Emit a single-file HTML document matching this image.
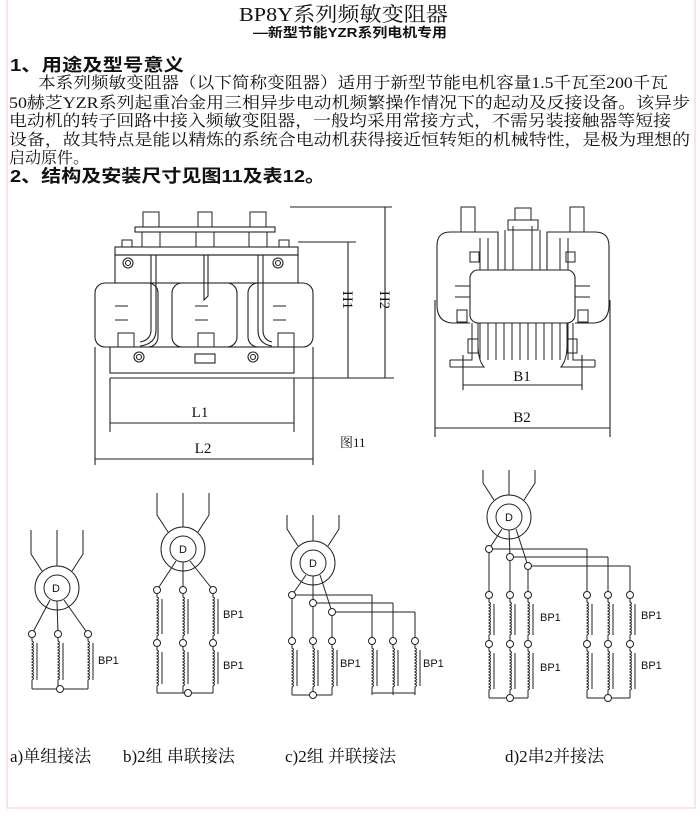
<!DOCTYPE html>
<html><head><meta charset="utf-8"><style>
html,body{margin:0;padding:0;background:#fff;width:700px;height:822px;overflow:hidden}
svg{display:block}
.s{font-family:"Liberation Serif","Noto Serif CJK SC","Noto Sans CJK SC",serif}
.h{font-family:"Liberation Sans","Noto Sans CJK SC",sans-serif;font-weight:bold}
.a{font-family:"Liberation Sans",sans-serif}
</style></head><body>
<svg id="g" width="700" height="822" viewBox="0 0 700 822" xmlns="http://www.w3.org/2000/svg">
<rect x="7" y="-2" width="688" height="810" fill="none" stroke="#f3c9c2" stroke-width="1"/>
<text class="s" x="239" y="21" font-size="20" textLength="209" lengthAdjust="spacingAndGlyphs" fill="#111">BP8Y系列频敏变阻器</text>
<text class="h" x="253" y="37" font-size="13" textLength="194" lengthAdjust="spacingAndGlyphs" fill="#111">—新型节能YZR系列电机专用</text>
<text class="h" x="10" y="71" font-size="17.5" textLength="174" lengthAdjust="spacingAndGlyphs" fill="#111">1、用途及型号意义</text>
<g class="s" font-size="16" fill="#111">
<text x="38" y="88" textLength="630" lengthAdjust="spacingAndGlyphs">本系列频敏变阻器（以下简称变阻器）适用于新型节能电机容量1.5千瓦至200千瓦</text>
<text x="9" y="108" textLength="681" lengthAdjust="spacingAndGlyphs">50赫芝YZR系列起重冶金用三相异步电动机频繁操作情况下的起动及反接设备。该异步</text>
<text x="9" y="126" textLength="662" lengthAdjust="spacingAndGlyphs">电动机的转子回路中接入频敏变阻器，一般均采用常接方式，不需另装接触器等短接</text>
<text x="9" y="145" textLength="681" lengthAdjust="spacingAndGlyphs">设备，故其特点是能以精炼的系统合电动机获得接近恒转矩的机械特性，是极为理想的</text>
<text x="9" y="163">启动原件。</text>
</g>
<text class="h" x="10" y="182" font-size="17.5" textLength="315" lengthAdjust="spacingAndGlyphs" fill="#111">2、结构及安装尺寸见图11及表12。</text>

<g id="draw" fill="none" stroke="#222" stroke-width="1.1">
<line x1="290" y1="207" x2="392" y2="207"/>
<line x1="298" y1="242" x2="356" y2="242"/>
<line x1="385" y1="207" x2="385" y2="378"/>
<line x1="348" y1="242" x2="348" y2="378"/>
<line x1="110" y1="378" x2="394" y2="378"/>
<rect x="135" y="227" width="140" height="5"/>
<rect x="115" y="247" width="183" height="8"/>
<rect x="115" y="255" width="183" height="28"/>
<circle cx="128" cy="263" r="5"/><circle cx="128" cy="263" r="2.5"/>
<circle cx="278" cy="263" r="5"/><circle cx="278" cy="263" r="2.5"/>
<rect x="95" y="283" width="63" height="64" rx="10"/>
<rect x="172" y="283" width="65" height="64" rx="10"/>
<rect x="248" y="283" width="65" height="64" rx="10"/>
<rect x="110" y="347" width="184" height="26"/>
<circle cx="139" cy="357" r="5"/><circle cx="139" cy="357" r="2.5"/>
<circle cx="253" cy="357" r="5"/><circle cx="253" cy="357" r="2.5"/>
<rect x="195" y="354" width="20" height="9"/>
<path d="M151 255 V330 Q151 340 140 342 M156 255 V330 Q156 344 140 346"/>
<path d="M204 255 V300 L208 296 V255"/>
<path d="M258 255 V330 Q258 344 272 346 M263 255 V330 Q263 340 272 342"/>
<g stroke-width="1">
<rect x="143" y="212" width="16" height="15"/><rect x="142" y="232" width="18" height="15"/>
<rect x="198" y="212" width="14" height="15"/><rect x="196" y="232" width="18" height="15"/>
<rect x="250" y="212" width="16" height="15"/><rect x="249" y="232" width="18" height="15"/>
<rect x="122" y="240" width="10" height="7"/><rect x="279" y="240" width="10" height="7"/>
<rect x="118" y="333" width="16" height="14"/><rect x="198" y="333" width="16" height="14"/><rect x="278" y="333" width="16" height="14"/>
<path d="M115 306h13M115 320h13M195 306h13M195 320h13M273 306h13M273 320h13"/>
</g>
<line x1="110" y1="378" x2="110" y2="432"/><line x1="294" y1="378" x2="294" y2="432"/>
<line x1="110" y1="423" x2="294" y2="423"/>
<line x1="95" y1="347" x2="95" y2="465"/><line x1="313" y1="347" x2="313" y2="465"/>
<line x1="95" y1="459" x2="313" y2="459"/>
<rect x="470" y="270" width="105" height="53" rx="8"/>
<path d="M478 232 H450 Q437 232 437 246 V305 Q437 322 452 323 H470"/>
<path d="M567 232 H595 Q609 232 609 246 V305 Q609 322 594 323 H575"/>
<path d="M470 232 H498 V270 M547 270 V232 H575"/>
<g stroke-width="1">
<path d="M480 238V270M488 238V270M560 238V270M568 238V270M505 230V270M540 230V270M513 226V270M532 226V270"/>
<rect x="508" y="220" width="30" height="10"/><rect x="515" y="208" width="16" height="12"/>
<rect x="461" y="207" width="14" height="25"/><rect x="570" y="207" width="14" height="25"/>
<path d="M480 323V360M488 323V360M496 323V360M504 323V360M512 323V360M520 323V360M528 323V360M536 323V360M544 323V360M552 323V360M560 323V360M568 323V360"/>
<path d="M450 367H484Q478 360 478 345V323M450 360H472V323 M595 367H561Q567 360 567 345V323M595 360H573V323 M450 360V367M595 360V367"/>
<rect x="468" y="339" width="10" height="14"/><rect x="567" y="339" width="10" height="14"/>
<path d="M455 286h15M455 297h15M575 286h15M575 297h15"/>
<rect x="457" y="310" width="10" height="12"/><rect x="578" y="310" width="10" height="12"/>
<rect x="470" y="252" width="9" height="10"/><rect x="566" y="252" width="9" height="10"/>
</g>
<line x1="463" y1="355" x2="463" y2="390"/><line x1="582" y1="355" x2="582" y2="390"/>
<line x1="463" y1="385" x2="582" y2="385"/>
<line x1="435" y1="300" x2="435" y2="437"/><line x1="610" y1="300" x2="610" y2="437"/>
<line x1="435" y1="428" x2="610" y2="428"/>
</g>
<g class="s" font-size="15" fill="#111">
<text x="200" y="417" text-anchor="middle">L1</text>
<text x="203" y="453" text-anchor="middle">L2</text>
<text x="522" y="381" text-anchor="middle">B1</text>
<text x="522" y="422" text-anchor="middle">B2</text>
<text x="343" y="300" transform="rotate(90 343 300)" text-anchor="middle">H1</text>
<text x="380" y="300" transform="rotate(90 380 300)" text-anchor="middle">H2</text>
<text x="340" y="447" font-size="13">图11</text>
</g>
<g id="circ" fill="none" stroke="#222" stroke-width="1"></g>
<g class="a" font-size="11" fill="#111">
<text x="98" y="664">BP1</text>
<text x="223" y="618">BP1</text><text x="223" y="669">BP1</text>
<text x="340" y="667">BP1</text><text x="423" y="667">BP1</text>
<text x="540" y="621">BP1</text><text x="540" y="671">BP1</text>
<text x="641" y="619">BP1</text><text x="641" y="669">BP1</text>
<text x="52" y="592" font-size="11">D</text><text x="179" y="553">D</text>
<text x="309" y="567">D</text><text x="505" y="521">D</text>
</g>
<g class="s" font-size="17" fill="#111">
<text x="10" y="762">a)单组接法</text>
<text x="123" y="762">b)2组 串联接法</text>
<text x="285" y="762">c)2组 并联接法</text>
<text x="505" y="762">d)2串2并接法</text>
</g>
</svg>
<script>
var G=document.getElementById('circ'),o='';
function L(a,b,c,d){o+='<line x1="'+a+'" y1="'+b+'" x2="'+c+'" y2="'+d+'"/>';}
function C(x,y,r){o+='<circle cx="'+x+'" cy="'+y+'" r="'+r+'" fill="#fff"/>';}
function P(d){o+='<path d="'+d+'"/>';}
function coil(x,y1,y2){var d='M'+x+' '+y1+' V'+(y1+4);var y=y1+4;while(y<y2-6){d+=' q3 1.5 0 3';y+=3;}d+=' V'+y2;P(d);L(x+5,y1+6,x+5,y2-6);}
function motor(cx,cy,top){C(cx,cy,22);C(cx,cy,13);
 L(cx,top,cx,cy-22);P('M'+(cx-26)+' '+top+' V'+(cy-34)+' L'+(cx-15)+' '+(cy-17));P('M'+(cx+26)+' '+top+' V'+(cy-34)+' L'+(cx+15)+' '+(cy-17));}
motor(57,588,530);
L(50,600,32,634);L(57,601,58,634);L(64,600,88,634);
[32,58,88].forEach(function(x){coil(x,637,686);});
L(32,686,32,689);L(88,686,88,689);L(32,689,88,689);L(58,686,58,689);
[32,58,88].forEach(function(x){C(x,634,3.5);});C(60,689,3.5);
motor(183,549,493);
L(176,561,157,590);L(183,562,183,590);L(190,561,213,590);
[157,183,213].forEach(function(x){coil(x,593,640);coil(x,646,690);L(x,690,x,693);C(x,590,3.5);C(x,643,3.5);});
L(157,693,213,693);C(188,693,3.5);
motor(313,563,515);
L(306,575,292,595);L(313,576,313,603);L(320,575,332,612);
L(292,595,372,595);L(313,603,393,603);L(332,612,415,612);
L(372,595,372,641);L(393,603,393,641);L(415,612,415,641);
L(292,595,292,641);L(313,603,313,641);L(332,612,332,641);
[292,313,332,372,393,415].forEach(function(x){coil(x,644,692);L(x,692,x,695);C(x,641,3.5);});
L(292,695,332,695);L(372,693,415,693);
C(292,595,3.5);C(313,603,3.5);C(332,612,3.5);C(313,695,3.5);
motor(509,517,470);
L(502,529,489,549);L(509,530,510,557);L(516,529,528,566);
L(489,549,587,549);L(510,557,608,557);L(528,566,630,566);
L(587,549,587,595);L(608,557,608,595);L(630,566,630,595);
L(489,549,489,595);L(510,557,510,595);L(528,566,528,595);
[489,510,528,587,608,630].forEach(function(x){coil(x,598,641);coil(x,647,695);L(x,695,x,698);C(x,595,3.5);C(x,644,3.5);});
L(489,698,528,698);L(587,698,630,698);
C(489,549,3.5);C(510,557,3.5);C(528,566,3.5);C(510,698,3.5);C(608,698,3.5);
G.innerHTML=o;
</script>
</body></html>
